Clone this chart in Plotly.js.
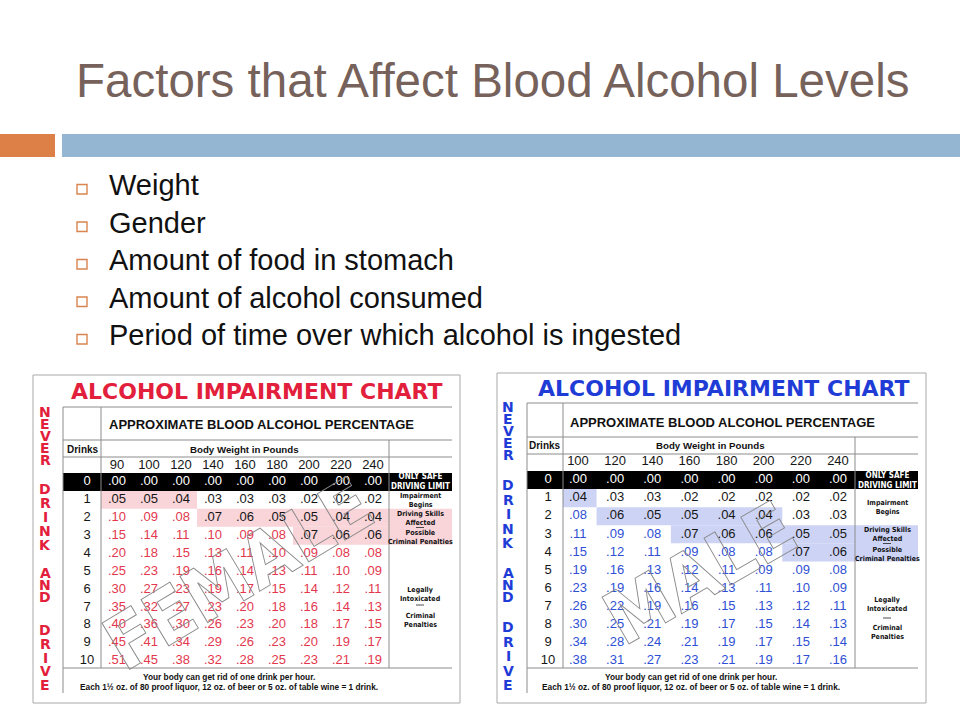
<!DOCTYPE html>
<html><head><meta charset="utf-8">
<script src="https://cdn.plot.ly/plotly-3.0.1.min.js"></script>
<style>html,body{margin:0;padding:0;background:#fff}</style>
</head><body><div id="chart" style="width:960px;height:720px"></div>
<script>
// ---------------- DATA ----------------
const slideTitle = "Factors that Affect Blood Alcohol Levels";
const bulletItems = ["Weight", "Gender", "Amount of food in stomach", "Amount of alcohol consumed", "Period of time over which alcohol is ingested"];
const tableTitle = "ALCOHOL IMPAIRMENT CHART";
const tableSubtitle = "APPROXIMATE BLOOD ALCOHOL PERCENTAGE";
const drinksHeader = "Drinks";
const weightHeader = "Body Weight in Pounds";
const sideWords = ["NEVER", "DRINK", "AND", "DRIVE"];
const drinks = [0, 1, 2, 3, 4, 5, 6, 7, 8, 9, 10];
const femaleWeights = [90, 100, 120, 140, 160, 180, 200, 220, 240];
const femaleBAC = [
  [.00, .00, .00, .00, .00, .00, .00, .00, .00],
  [.05, .05, .04, .03, .03, .03, .02, .02, .02],
  [.10, .09, .08, .07, .06, .05, .05, .04, .04],
  [.15, .14, .11, .10, .09, .08, .07, .06, .06],
  [.20, .18, .15, .13, .11, .10, .09, .08, .08],
  [.25, .23, .19, .16, .14, .13, .11, .10, .09],
  [.30, .27, .23, .19, .17, .15, .14, .12, .11],
  [.35, .32, .27, .23, .20, .18, .16, .14, .13],
  [.40, .36, .30, .26, .23, .20, .18, .17, .15],
  [.45, .41, .34, .29, .26, .23, .20, .19, .17],
  [.51, .45, .38, .32, .28, .25, .23, .21, .19]
];
const maleWeights = [100, 120, 140, 160, 180, 200, 220, 240];
const maleBAC = [
  [.00, .00, .00, .00, .00, .00, .00, .00],
  [.04, .03, .03, .02, .02, .02, .02, .02],
  [.08, .06, .05, .05, .04, .04, .03, .03],
  [.11, .09, .08, .07, .06, .06, .05, .05],
  [.15, .12, .11, .09, .08, .08, .07, .06],
  [.19, .16, .13, .12, .11, .09, .09, .08],
  [.23, .19, .16, .14, .13, .11, .10, .09],
  [.26, .22, .19, .16, .15, .13, .12, .11],
  [.30, .25, .21, .19, .17, .15, .14, .13],
  [.34, .28, .24, .21, .19, .17, .15, .14],
  [.38, .31, .27, .23, .21, .19, .17, .16]
];
const impairmentStart = 0.04;   // shaded zone from here
const legalLimit = 0.08;        // coloured numbers from here
const safeLabel = "ONLY SAFE<br>DRIVING LIMIT";
const impairLabel = "Impairment<br>Begins";
const skillsLabel = "Driving Skills<br>Affected";
const possibleLabel = "Possible<br>Criminal Penalties";
const legalLabel = "Legally<br>Intoxicated";
const criminalLabel = "Criminal<br>Penalties";
const footer1 = "Your body can get rid of one drink per hour.";
const footer2 = "Each 1½ oz. of 80 proof liquor, 12 oz. of beer or 5 oz. of table wine = 1 drink.";

// ---------------- LAYOUT / STYLE ----------------
const W = 960, H = 720;
const P = x => x / W, Q = y => 1 - y / H;
const SANS = "Liberation Sans, Arial, sans-serif";
const NARROW = "Liberation Sans Narrow, DejaVu Sans Condensed, Liberation Sans, sans-serif";

const tables = [
  { xa: 'x', ya: 'y', weights: femaleWeights, bac: femaleBAC, zoneRows: [2, 3],
    title: '#E2203C', num: '#E2384E', shade: '#F9D4D9', wm: 'FEMALE',
    g: { box: [33, 375, 460, 703], L: 63, R: 452, top: 407, l2: 440, l3: 457, v1: 101, v2: 389, bottom: 668, outerB: 693,
         col0: 117, colStep: 32, row0: 482, rowStep: 17.9, drinksX: 87, headerY: 466,
         titleX: 257, titleY: 392, subX: 107, subY: 424, hdrY: 449, drinksHdrX: 83, bodyHdrX: 245,
         labelX: 420, labels: [[impairLabel, 500], [skillsLabel, 518], [possibleLabel, 537.5], [legalLabel, 594.5], [criminalLabel, 620.5]],
         dashes: [527.5, 605], footerX: 229, f1: 677, f2: 687, sideX: 45,
         sideSpans: [[412, 460], [489, 545], [573, 597], [630, 685]], wmX: 238, wmY: 574, wmA: -31 } },
  { xa: 'x2', ya: 'y2', weights: maleWeights, bac: maleBAC, zoneRows: [3, 4],
    title: '#1F3DD6', num: '#2F4FD4', shade: '#CDD3F5', wm: 'MALE',
    g: { box: [497, 373, 926, 703], L: 527, R: 918, top: 403, l2: 437, l3: 454, v1: 563, v2: 855, bottom: 668, outerB: 693,
         col0: 578, colStep: 37.14, row0: 480, rowStep: 18.1, drinksX: 548, headerY: 462,
         titleX: 724, titleY: 388, subX: 568, subY: 422, hdrY: 445, drinksHdrX: 545, bodyHdrX: 710,
         labelX: 887, labels: [[impairLabel, 507.5], [skillsLabel, 534], [possibleLabel, 554.5], [legalLabel, 604.5], [criminalLabel, 632]],
         dashes: [543.5, 618], footerX: 691, f1: 677, f2: 687, sideX: 508,
         sideSpans: [[407, 455], [485, 543], [573, 597], [627, 685]], wmX: 700, wmY: 573, wmA: -30 } }
];

const fmt = v => v.toFixed(2).replace(/^0/, '');
const data = [], shapes = [], annotations = [];
const layout = {
  width: W, height: H, margin: { l: 0, r: 0, t: 0, b: 0 }, paper_bgcolor: '#fff', plot_bgcolor: 'rgba(0,0,0,0)',
  showlegend: false, hovermode: false, shapes, annotations
};

// slide decorations
shapes.push({ type: 'rect', xref: 'paper', yref: 'paper', x0: P(0), x1: P(55), y0: Q(134), y1: Q(157), fillcolor: '#DD8047', line: { width: 0 } });
shapes.push({ type: 'rect', xref: 'paper', yref: 'paper', x0: P(62), x1: P(960), y0: Q(134), y1: Q(157), fillcolor: '#94B6D2', line: { width: 0 } });
annotations.push({ xref: 'paper', yref: 'paper', x: P(74), y: Q(80), xanchor: 'left', yanchor: 'middle', showarrow: false,
  text: slideTitle, font: { family: SANS, size: 47.5, color: '#76625B' } });
bulletItems.forEach((t, k) => {
  const cy = 184 + k * 37.5;
  annotations.push({ xref: 'paper', yref: 'paper', x: P(107), y: Q(cy + 1), xanchor: 'left', yanchor: 'middle', showarrow: false,
    text: t, font: { family: SANS, size: 29, color: '#111' } });
  shapes.push({ type: 'rect', xref: 'paper', yref: 'paper', x0: P(77), x1: P(87), y0: Q(cy + 0.5), y1: Q(cy + 10), fillcolor: 'rgba(0,0,0,0)', line: { color: '#D9844F', width: 1.4 } });
});

tables.forEach((T, ti) => {
  const g = T.g;
  const dx = px => (px - g.col0) / g.colStep;
  const dy = px => (px - g.row0) / g.rowStep;
  const sfx = ti === 0 ? '' : '2';
  layout['xaxis' + sfx] = { domain: [0, 1], range: [dx(0), dx(W)], visible: false, fixedrange: true, anchor: T.ya };
  layout['yaxis' + sfx] = { domain: [0, 1], range: [dy(H), dy(0)], visible: false, fixedrange: true, anchor: T.xa };
  const line = (x0, y0, x1, y1, c, w) => shapes.push({ type: 'line', xref: 'paper', yref: 'paper', x0: P(x0), x1: P(x1), y0: Q(y0), y1: Q(y1), line: { color: c, width: w } });
  // outer frame
  shapes.push({ type: 'rect', xref: 'paper', yref: 'paper', x0: P(g.box[0]), x1: P(g.box[2]), y0: Q(g.box[1]), y1: Q(g.box[3]), fillcolor: '#fff', line: { color: '#a9a9a9', width: 1 }, layer: 'below' });
  // shading of zones (from values)
  T.bac.forEach((row, r) => {
    let start = -1;
    for (let i = 0; i <= row.length; i++) {
      const on = i < row.length && row[i] >= impairmentStart && row[i] < legalLimit;
      if (on && start < 0) start = i;
      if (!on && start >= 0) {
        shapes.push({ type: 'rect', xref: T.xa, yref: T.ya, x0: Math.max(start - 0.5, dx(g.v1)), x1: i - 0.5, y0: r - 0.5, y1: r + 0.5,
          fillcolor: T.shade, line: { width: 0 }, layer: 'below' });
        start = -1;
      }
    }
  });
  shapes.push({ type: 'rect', xref: T.xa, yref: T.ya, x0: dx(g.v2), x1: dx(g.R), y0: T.zoneRows[0] - 0.5, y1: T.zoneRows[1] + 0.5, fillcolor: T.shade, line: { width: 0 }, layer: 'below' });
  // black "0 drinks" row
  shapes.push({ type: 'rect', xref: T.xa, yref: T.ya, x0: dx(g.L), x1: dx(g.R), y0: -0.5, y1: 0.5, fillcolor: '#000', line: { width: 0 }, layer: 'below' });
  // grid lines
  line(g.L, g.top, g.R, g.top, '#8c8c8c', 1);
  line(g.L, g.l2, g.R, g.l2, '#8c8c8c', 1);
  line(g.L, g.l3, g.R, g.l3, '#8c8c8c', 1);
  line(g.L, g.bottom, g.R, g.bottom, '#8c8c8c', 1);
  line(g.L, g.top, g.L, g.outerB, '#8c8c8c', 1);
  line(g.v1, g.top, g.v1, g.bottom, '#8c8c8c', 1);
  line(g.v2, g.l2, g.v2, g.bottom, '#8c8c8c', 1);
  g.dashes.forEach(y => line(g.labelX - 4, y, g.labelX + 4, y, '#222', 0.8));

  // numbers
  const xs = [], ys = [], txt = [], cols = [];
  T.bac.forEach((row, r) => row.forEach((v, i) => {
    xs.push(i); ys.push(drinks[r]); txt.push(fmt(v));
    cols.push(r === 0 ? '#fff' : (v >= legalLimit ? T.num : '#161616'));
  }));
  data.push({ type: 'scatter', mode: 'text', xaxis: T.xa, yaxis: T.ya, x: xs, y: ys, text: txt, hoverinfo: 'skip',
    textfont: { family: SANS, size: 13, color: cols } });
  data.push({ type: 'scatter', mode: 'text', xaxis: T.xa, yaxis: T.ya, x: T.weights.map((w, i) => i), y: T.weights.map(() => dy(g.headerY)),
    text: T.weights.map(String), hoverinfo: 'skip', textfont: { family: SANS, size: 13, color: '#161616' } });
  data.push({ type: 'scatter', mode: 'text', xaxis: T.xa, yaxis: T.ya, x: drinks.map(() => dx(g.drinksX)), y: drinks,
    text: drinks.map(String), hoverinfo: 'skip', textfont: { family: SANS, size: 13, color: drinks.map(d => d === 0 ? '#fff' : '#161616') } });

  // texts
  const ann = (x, y, text, font, xanchor, extra) => annotations.push(Object.assign({ xref: 'paper', yref: 'paper', x: P(x), y: Q(y), xanchor: xanchor || 'center', yanchor: 'middle', showarrow: false, text, font }, extra || {}));
  ann(g.titleX, g.titleY, tableTitle, { family: 'DejaVu Sans, sans-serif', size: 22, weight: 'bold', color: T.title });
  ann(g.subX, g.subY, tableSubtitle, { family: SANS, size: 13, weight: 'bold', color: '#111' }, 'left');
  ann(g.drinksHdrX, g.hdrY, drinksHeader, { family: SANS, size: 10, weight: 'bold', color: '#111' });
  ann(g.bodyHdrX, g.hdrY, weightHeader, { family: SANS, size: 9.7, weight: 'bold', color: '#111' });
  ann(g.labelX, g.row0, safeLabel, { family: NARROW, size: 8, weight: 'bold', color: '#fff' });
  g.labels.forEach(([t, y]) => ann(g.labelX, y, t, { family: NARROW, size: 7, weight: 'bold', color: '#111' }));
  ann(g.footerX, g.f1, footer1, { family: SANS, size: 8.3, weight: 'bold', color: '#111' });
  ann(g.footerX, g.f2, footer2, { family: SANS, size: 8.3, weight: 'bold', color: '#111' });
  sideWords.forEach((w, k) => {
    const [a, b] = g.sideSpans[k];
    const step = w.length > 1 ? (b - a) / (w.length - 1) : 0;
    w.split('').forEach((ch, j) => ann(g.sideX, a + j * step, ch, { family: 'DejaVu Sans, sans-serif', size: 14, weight: 'bold', color: T.title }));
  });
  ann(g.wmX, g.wmY, T.wm, { family: NARROW, size: 74, weight: 'bold', color: '#888' }, 'center', { textangle: T.g.wmA });
});

Plotly.newPlot('chart', data, layout, { staticPlot: true, displayModeBar: false }).then(gd => {
  gd.querySelectorAll('.annotation-text').forEach(t => {
    if (t.textContent === 'FEMALE' || t.textContent === 'MALE') {
      t.style.fill = 'none'; t.style.stroke = '#8a8a8a'; t.style.strokeWidth = '0.9px';
    }
  });
});
</script></body></html>
